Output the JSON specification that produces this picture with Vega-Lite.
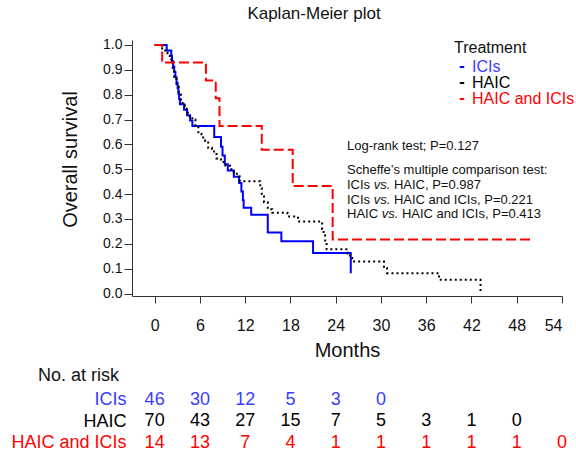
{
  "$schema": "https://vega.github.io/schema/vega-lite/v6.json",
  "padding": {"left": 10, "top": 5, "right": 0, "bottom": 0},
  "background": "white",
  "config": {
    "font": "Liberation Sans",
    "view": {"stroke": null},
    "axis": {"grid": false, "domainColor": "#333333", "tickColor": "#333333", "labelColor": "#111111", "titleColor": "#111111", "titleFontWeight": "normal", "labelOverlap": false}
  },
  "datasets": {
    "km": [
      {"group": "ICIs", "month": 0, "surv": 1.0},
      {"group": "ICIs", "month": 1.6, "surv": 0.978},
      {"group": "ICIs", "month": 2.2, "surv": 0.957},
      {"group": "ICIs", "month": 2.3, "surv": 0.935},
      {"group": "ICIs", "month": 2.45, "surv": 0.913},
      {"group": "ICIs", "month": 2.6, "surv": 0.891},
      {"group": "ICIs", "month": 2.75, "surv": 0.87},
      {"group": "ICIs", "month": 2.9, "surv": 0.848},
      {"group": "ICIs", "month": 3.05, "surv": 0.826},
      {"group": "ICIs", "month": 3.15, "surv": 0.804},
      {"group": "ICIs", "month": 3.25, "surv": 0.783},
      {"group": "ICIs", "month": 3.35, "surv": 0.761},
      {"group": "ICIs", "month": 3.9, "surv": 0.739},
      {"group": "ICIs", "month": 4.3, "surv": 0.717},
      {"group": "ICIs", "month": 4.7, "surv": 0.696},
      {"group": "ICIs", "month": 5.0, "surv": 0.674},
      {"group": "ICIs", "month": 7.9, "surv": 0.63},
      {"group": "ICIs", "month": 8.8, "surv": 0.59},
      {"group": "ICIs", "month": 9.0, "surv": 0.555},
      {"group": "ICIs", "month": 9.3, "surv": 0.52},
      {"group": "ICIs", "month": 9.7, "surv": 0.495},
      {"group": "ICIs", "month": 10.5, "surv": 0.47},
      {"group": "ICIs", "month": 11.2, "surv": 0.445},
      {"group": "ICIs", "month": 11.5, "surv": 0.41},
      {"group": "ICIs", "month": 11.7, "surv": 0.375},
      {"group": "ICIs", "month": 11.8, "surv": 0.345},
      {"group": "ICIs", "month": 12.8, "surv": 0.317},
      {"group": "ICIs", "month": 15.0, "surv": 0.245},
      {"group": "ICIs", "month": 16.8, "surv": 0.21},
      {"group": "ICIs", "month": 21.0, "surv": 0.163},
      {"group": "ICIs", "month": 26.0, "surv": 0.082},
      {"group": "HAIC", "month": 0, "surv": 1.0},
      {"group": "HAIC", "month": 1.0, "surv": 0.986},
      {"group": "HAIC", "month": 1.4, "surv": 0.971},
      {"group": "HAIC", "month": 1.7, "surv": 0.957},
      {"group": "HAIC", "month": 2.0, "surv": 0.943},
      {"group": "HAIC", "month": 2.2, "surv": 0.929},
      {"group": "HAIC", "month": 2.4, "surv": 0.9},
      {"group": "HAIC", "month": 2.6, "surv": 0.871},
      {"group": "HAIC", "month": 2.9, "surv": 0.843},
      {"group": "HAIC", "month": 3.2, "surv": 0.8},
      {"group": "HAIC", "month": 3.5, "surv": 0.771},
      {"group": "HAIC", "month": 3.7, "surv": 0.757},
      {"group": "HAIC", "month": 4.0, "surv": 0.743},
      {"group": "HAIC", "month": 4.4, "surv": 0.714},
      {"group": "HAIC", "month": 5.0, "surv": 0.7},
      {"group": "HAIC", "month": 5.4, "surv": 0.671},
      {"group": "HAIC", "month": 5.8, "surv": 0.643},
      {"group": "HAIC", "month": 6.2, "surv": 0.628},
      {"group": "HAIC", "month": 6.7, "surv": 0.614},
      {"group": "HAIC", "month": 7.1, "surv": 0.586},
      {"group": "HAIC", "month": 7.6, "surv": 0.571},
      {"group": "HAIC", "month": 8.2, "surv": 0.543},
      {"group": "HAIC", "month": 8.8, "surv": 0.529},
      {"group": "HAIC", "month": 9.4, "surv": 0.514},
      {"group": "HAIC", "month": 10.0, "surv": 0.5},
      {"group": "HAIC", "month": 10.5, "surv": 0.486},
      {"group": "HAIC", "month": 10.9, "surv": 0.471},
      {"group": "HAIC", "month": 11.3, "surv": 0.452},
      {"group": "HAIC", "month": 14.0, "surv": 0.424},
      {"group": "HAIC", "month": 14.2, "surv": 0.396},
      {"group": "HAIC", "month": 14.5, "surv": 0.367},
      {"group": "HAIC", "month": 15.0, "surv": 0.339},
      {"group": "HAIC", "month": 15.6, "surv": 0.325},
      {"group": "HAIC", "month": 17.6, "surv": 0.31},
      {"group": "HAIC", "month": 19.0, "surv": 0.29},
      {"group": "HAIC", "month": 22.2, "surv": 0.26},
      {"group": "HAIC", "month": 22.4, "surv": 0.233},
      {"group": "HAIC", "month": 22.6, "surv": 0.205},
      {"group": "HAIC", "month": 22.8, "surv": 0.178},
      {"group": "HAIC", "month": 25.6, "surv": 0.16},
      {"group": "HAIC", "month": 25.9, "surv": 0.143},
      {"group": "HAIC", "month": 26.2, "surv": 0.129},
      {"group": "HAIC", "month": 30.4, "surv": 0.103},
      {"group": "HAIC", "month": 30.8, "surv": 0.082},
      {"group": "HAIC", "month": 37.7, "surv": 0.055},
      {"group": "HAIC", "month": 43.2, "surv": 0.0},
      {"group": "HAIC and ICIs", "month": 0, "surv": 1.0},
      {"group": "HAIC and ICIs", "month": 1.0, "surv": 0.929},
      {"group": "HAIC and ICIs", "month": 6.8, "surv": 0.857},
      {"group": "HAIC and ICIs", "month": 8.1, "surv": 0.786},
      {"group": "HAIC and ICIs", "month": 8.6, "surv": 0.674},
      {"group": "HAIC and ICIs", "month": 14.2, "surv": 0.578},
      {"group": "HAIC and ICIs", "month": 18.3, "surv": 0.433},
      {"group": "HAIC and ICIs", "month": 23.6, "surv": 0.217},
      {"group": "HAIC and ICIs", "month": 50.0, "surv": 0.217}
    ],
    "risk": [
      {"group": "ICIs", "month": 0, "n": 46},
      {"group": "ICIs", "month": 6, "n": 30},
      {"group": "ICIs", "month": 12, "n": 12},
      {"group": "ICIs", "month": 18, "n": 5},
      {"group": "ICIs", "month": 24, "n": 3},
      {"group": "ICIs", "month": 30, "n": 0},
      {"group": "HAIC", "month": 0, "n": 70},
      {"group": "HAIC", "month": 6, "n": 43},
      {"group": "HAIC", "month": 12, "n": 27},
      {"group": "HAIC", "month": 18, "n": 15},
      {"group": "HAIC", "month": 24, "n": 7},
      {"group": "HAIC", "month": 30, "n": 5},
      {"group": "HAIC", "month": 36, "n": 3},
      {"group": "HAIC", "month": 42, "n": 1},
      {"group": "HAIC", "month": 48, "n": 0},
      {"group": "HAIC and ICIs", "month": 0, "n": 14},
      {"group": "HAIC and ICIs", "month": 6, "n": 13},
      {"group": "HAIC and ICIs", "month": 12, "n": 7},
      {"group": "HAIC and ICIs", "month": 18, "n": 4},
      {"group": "HAIC and ICIs", "month": 24, "n": 1},
      {"group": "HAIC and ICIs", "month": 30, "n": 1},
      {"group": "HAIC and ICIs", "month": 36, "n": 1},
      {"group": "HAIC and ICIs", "month": 42, "n": 1},
      {"group": "HAIC and ICIs", "month": 48, "n": 1},
      {"group": "HAIC and ICIs", "month": 54, "n": 0}
    ]
  },
  "spacing": 7,
  "resolve": {"scale": {"x": "independent", "y": "independent", "color": "independent"}, "legend": {"color": "independent"}},
  "vconcat": [
    {
      "width": 430,
      "height": 256,
      "title": {"text": "Kaplan-Meier plot", "fontSize": 17, "fontWeight": "normal", "anchor": "middle", "frame": "group", "dx": -33, "offset": 14.5, "color": "#111111"},
      "layer": [
        {
          "data": {"name": "km"},
          "encoding": {
            "x": {"field": "month", "type": "quantitative", "scale": {"domain": [-3, 54], "nice": false, "zero": false},
                  "axis": {"values": [0, 6, 12, 18, 24, 30, 36, 42, 48, 54], "title": "Months", "tickSize": 7, "labelFontSize": 16, "labelPadding": 14, "titleFontSize": 20, "titlePadding": 7}},
            "y": {"field": "surv", "type": "quantitative", "scale": {"domain": [-0.01, 1.02], "nice": false, "zero": false},
                  "axis": {"values": [0, 0.1, 0.2, 0.3, 0.4, 0.5, 0.6, 0.7, 0.8, 0.9, 1.0], "format": ".1f", "title": "Overall survival", "tickSize": 8, "labelFontSize": 14, "labelPadding": 2, "titleFontSize": 20, "titlePadding": 22, "titleY": 119}},
            "color": {"field": "group", "type": "nominal",
                      "scale": {"domain": ["ICIs", "HAIC", "HAIC and ICIs"], "range": ["#0000ff", "#000000", "#ff0000"]},
                      "legend": {"orient": "none", "legendX": 322, "legendY": 0, "title": "Treatment", "titleFontSize": 16, "titleFontWeight": "normal", "titleColor": "#111111", "titlePadding": 3,
                                 "labelFontSize": 16, "symbolType": "stroke", "symbolSize": 20, "symbolStrokeWidth": 2, "symbolDash": [1, 0], "rowPadding": 0, "labelOffset": 2,
                                 "encode": {"labels": {"update": {"fill": {"signal": "datum.value === 'ICIs' ? '#3b3bff' : datum.value === 'HAIC' ? '#000000' : '#ff0000'"}}},
                                            "symbols": {"update": {"strokeDash": {"value": [1, 0]}}}}}}
          },
          "layer": [
            {
              "transform": [{"filter": "datum.group === 'ICIs'"}],
              "mark": {"type": "line", "interpolate": "step-after", "strokeWidth": 2}
            },
            {
              "transform": [{"filter": "datum.group === 'HAIC'"}],
              "mark": {"type": "line", "interpolate": "step-after", "strokeWidth": 2, "strokeDash": [2, 3]}
            },
            {
              "transform": [{"filter": "datum.group === 'HAIC and ICIs'"}],
              "mark": {"type": "line", "interpolate": "step-after", "strokeWidth": 2, "strokeDash": [10, 4]}
            }
          ]
        },
        {
          "data": {"values": [
            {"t": "Log-rank test; P=0.127", "s": 0.595},
            {"t": "Scheffe’s multiple comparison test:", "s": 0.495},
            {"t": "ICIs", "s": 0.437},
            {"t": "ICIs", "s": 0.376},
            {"t": "HAIC", "s": 0.318},
            {"t": "vs.", "s": 0.437, "part": "v1"},
            {"t": "vs.", "s": 0.376, "part": "v1"},
            {"t": "vs.", "s": 0.318, "part": "v2"},
            {"t": "HAIC, P=0.987", "s": 0.437, "part": "r1"},
            {"t": "HAIC and ICIs, P=0.221", "s": 0.376, "part": "r1"},
            {"t": "HAIC and ICIs, P=0.413", "s": 0.318, "part": "r2"}
          ]},
          "layer": [
            {
              "transform": [{"filter": "!isValid(datum.part)"}],
              "mark": {"type": "text", "align": "left", "baseline": "middle", "fontSize": 13, "color": "#111111"}
            },
            {
              "transform": [{"filter": "datum.part === 'v1'"}],
              "mark": {"type": "text", "align": "left", "baseline": "middle", "fontSize": 13, "color": "#111111", "fontStyle": "italic", "dx": 26.7}
            },
            {
              "transform": [{"filter": "datum.part === 'v2'"}],
              "mark": {"type": "text", "align": "left", "baseline": "middle", "fontSize": 13, "color": "#111111", "fontStyle": "italic", "dx": 34.7}
            },
            {
              "transform": [{"filter": "datum.part === 'r1'"}],
              "mark": {"type": "text", "align": "left", "baseline": "middle", "fontSize": 13, "color": "#111111", "dx": 46.9}
            },
            {
              "transform": [{"filter": "datum.part === 'r2'"}],
              "mark": {"type": "text", "align": "left", "baseline": "middle", "fontSize": 13, "color": "#111111", "dx": 54.9}
            }
          ],
          "encoding": {
            "x": {"datum": 25.5},
            "y": {"field": "s", "type": "quantitative",
                  "axis": {"values": [0, 0.1, 0.2, 0.3, 0.4, 0.5, 0.6, 0.7, 0.8, 0.9, 1.0], "format": ".1f", "title": "Overall survival", "tickSize": 8, "labelFontSize": 14, "labelPadding": 2, "titleFontSize": 20, "titlePadding": 22, "titleY": 119}},
            "text": {"field": "t"}
          }
        }
      ]
    },
    {
      "width": 430,
      "height": 64.5,
      "title": {"text": "No. at risk", "anchor": "start", "frame": "group", "dx": -94, "fontSize": 18, "fontWeight": "normal", "offset": 4, "color": "#111111"},
      "data": {"name": "risk"},
      "mark": {"type": "text", "fontSize": 18, "baseline": "middle", "align": "center"},
      "encoding": {
        "x": {"field": "month", "type": "quantitative", "scale": {"domain": [-3, 54], "nice": false, "zero": false}, "axis": null},
        "y": {"field": "group", "type": "nominal", "scale": {"domain": ["ICIs", "HAIC", "HAIC and ICIs"]},
              "axis": {"title": null, "domain": false, "ticks": false, "labelFontSize": 18, "labelPadding": 6,
                       "labelColor": {"condition": [{"test": "datum.value === 'ICIs'", "value": "#3b3bff"}, {"test": "datum.value === 'HAIC and ICIs'", "value": "#ff0000"}], "value": "#000000"}}},
        "text": {"field": "n", "type": "quantitative"},
        "color": {"field": "group", "type": "nominal", "scale": {"domain": ["ICIs", "HAIC", "HAIC and ICIs"], "range": ["#3b3bff", "#000000", "#ff0000"]}, "legend": null}
      }
    }
  ]
}
